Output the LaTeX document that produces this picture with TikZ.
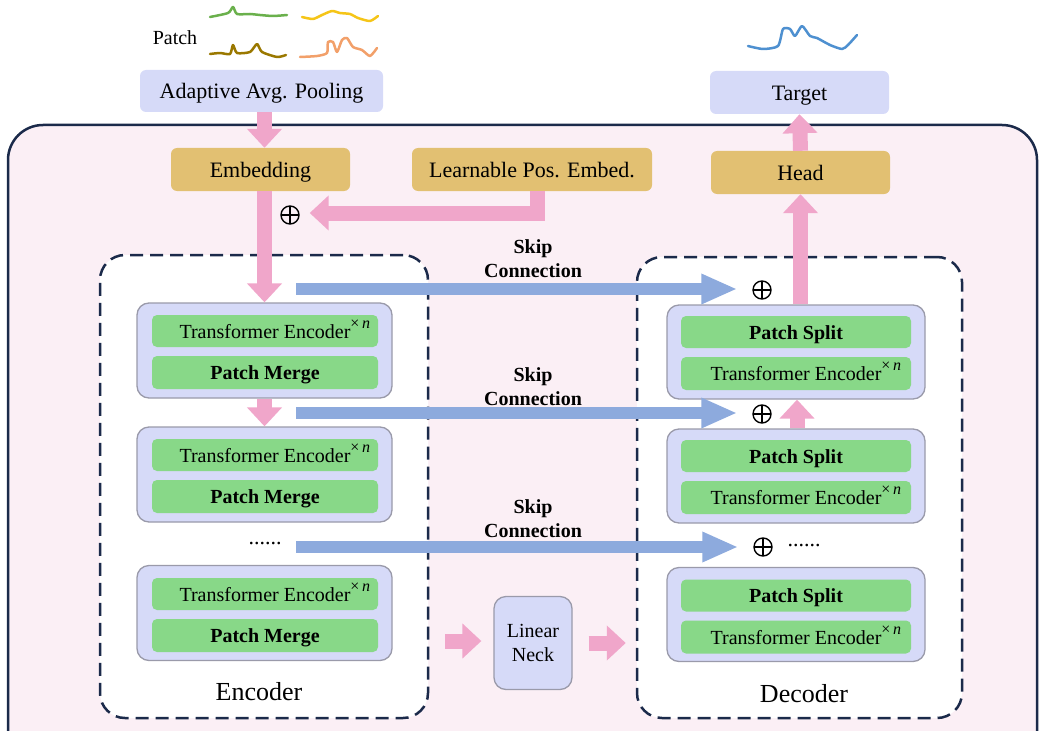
\documentclass[tikz,border=0pt]{standalone}
\usepackage{fontspec}
\setmainfont{Liberation Serif}
\usetikzlibrary{arrows.meta}
\definecolor{lav}{HTML}{D6DAF8}
\definecolor{gold}{HTML}{E2C072}
\definecolor{grn}{HTML}{88D888}
\definecolor{pinkc}{HTML}{F0A6CA}
\definecolor{bluec}{HTML}{8DAADD}
\definecolor{navy}{HTML}{1B2A4A}
\definecolor{bgpink}{HTML}{FBEFF5}
\definecolor{blockedge}{HTML}{9A9AAA}
\definecolor{cgreen}{HTML}{6AB04C}
\definecolor{cyellow}{HTML}{F5C518}
\definecolor{cbrown}{HTML}{9A7800}
\definecolor{corange}{HTML}{F2A06A}
\definecolor{cblue}{HTML}{4E90D0}
\newcommand\TEtext{Transformer Encoder\rlap{\raisebox{10pt}{\fontsize{16}{16}\selectfont ×\,\textit{n}}}}
\tikzset{
  lavbox/.style={fill=lav, rounded corners=6pt, inner sep=0pt, align=center, text height=16pt, text depth=0pt, font=\fontsize{22}{26}\selectfont},
  goldbox/.style={fill=gold, rounded corners=6pt, inner sep=0pt, align=center, text height=16pt, text depth=0pt, font=\fontsize{22}{26}\selectfont},
  blockbox/.style={fill=lav, draw=blockedge, line width=1.3pt, rounded corners=12pt, inner sep=0pt, minimum width=255pt, minimum height=95pt},
  dblockbox/.style={fill=lav, draw=blockedge, line width=1.3pt, rounded corners=12pt, inner sep=0pt, minimum width=258pt, minimum height=94pt},
  grnbox/.style={fill=grn, rounded corners=5pt, inner sep=0pt, minimum height=32pt, text height=14pt, text depth=0pt, font=\fontsize{20}{24}\selectfont},
  dashbox/.style={draw=navy, fill=white, line width=2.5pt, dash pattern=on 13pt off 7pt, rounded corners=25pt, inner sep=0pt},
  pinkarrow/.style={draw=pinkc, line width=15pt, -{Triangle[width=34pt,length=19pt]}},
  bluearrow/.style={draw=bluec, line width=12pt, -{Triangle[width=28pt,length=36pt]}},
  oplusnode/.style={circle, draw=black, line width=1.4pt, inner sep=0pt, minimum size=18pt,
    path picture={\draw[line width=1.4pt] (path picture bounding box.north) -- (path picture bounding box.south)
                  (path picture bounding box.west) -- (path picture bounding box.east);}},
  skiplabel/.style={align=center, font=\fontsize{20}{24}\selectfont\bfseries},
  curve/.style={line width=2.5pt, line join=round, line cap=round},
}
\begin{document}
\begin{tikzpicture}[x=1pt,y=-1pt]
\useasboundingbox (0,0) rectangle (1040,730);
\clip (0,0) rectangle (1040,730);
% background
\draw[fill=bgpink, draw=navy, line width=2.5pt, rounded corners=35pt] (8,780) -- (8,125) -- (1037,125) -- (1037,780);
% patch curves
\node[font=\fontsize{20}{24}\selectfont] (patchlbl) at (175,38) {Patch};
\draw[curve, cgreen] plot[smooth, tension=0.4] coordinates {(210,17) (228,13) (233,7) (237,14) (250,14) (260,15) (273,16) (287,15)};
\draw[curve, cyellow] plot[smooth, tension=0.4] coordinates {(302,17) (313,19) (322,15) (332,11) (340,13) (350,14) (358,18) (370,21) (378,16)};
\draw[curve, cbrown] plot[smooth, tension=0.4] coordinates {(210,54) (220,53) (230,54) (233,45) (237,53) (250,52) (257,44) (262,52) (277,57) (286,55)};
\draw[curve, corange] plot[smooth, tension=0.4] coordinates {(300,57) (317,56) (327,53) (328,42) (333,42) (337,52) (342,40) (347,38) (353,47) (362,50) (370,56) (377,48)};
\draw[curve, cblue] plot[smooth, tension=0.4] coordinates {(748,46) (763,49) (778,46) (783,29) (790,29) (795,36) (802,26) (810,36) (817,38) (830,45) (842,49) (848,45) (857,35)};
% top boxes
\node[lavbox, minimum width=243pt, minimum height=42pt] (pool) at (261.5,91) {Adaptive Avg. Pooling};
\node[lavbox, minimum width=179pt, minimum height=43pt] (target) at (799.5,92.5) {Target};
\node[goldbox, minimum width=179pt, minimum height=43pt] (emb) at (260.5,169.5) {Embedding};
\node[goldbox, minimum width=240pt, minimum height=43pt] (lpe) at (532,169.5) {Learnable Pos. Embed.};
\node[goldbox, minimum width=179pt, minimum height=43pt] (head) at (800.5,172.5) {Head};
% encoder / decoder frames
\node[dashbox, minimum width=328pt, minimum height=463pt] (enc) at (264,486.5) {};
\node[dashbox, minimum width=325pt, minimum height=461pt] (dec) at (799.5,487.5) {};
\node[font=\fontsize{26}{30}\selectfont] (enclbl) at (259,692) {Encoder};
\node[font=\fontsize{26}{30}\selectfont] (declbl) at (804,694) {Decoder};
% encoder blocks
\node[blockbox] (eB1) at (264.5,350.5) {};
\node[grnbox, minimum width=226pt] (eT1) at (265,331) {\TEtext};
\node[grnbox, minimum width=226pt, minimum height=33pt, font=\fontsize{20}{24}\selectfont\bfseries] (eP1) at (265,372.5) {Patch Merge};
\node[blockbox] (eB2) at (264.5,474.5) {};
\node[grnbox, minimum width=226pt] (eT2) at (265,455) {\TEtext};
\node[grnbox, minimum width=226pt, minimum height=33pt, font=\fontsize{20}{24}\selectfont\bfseries] (eP2) at (265,496.5) {Patch Merge};
\node[blockbox] (eB3) at (264.5,613) {};
\node[grnbox, minimum width=226pt] (eT3) at (265,594) {\TEtext};
\node[grnbox, minimum width=226pt, minimum height=33pt, font=\fontsize{20}{24}\selectfont\bfseries] (eP3) at (265,635.5) {Patch Merge};
\node[font=\fontsize{22}{24}\selectfont] (edots) at (265,544) {......};
% decoder blocks
\node[dblockbox] (dB1) at (796,352) {};
\node[grnbox, minimum width=230pt, font=\fontsize{20}{24}\selectfont\bfseries] (dP1) at (796,332) {Patch Split};
\node[grnbox, minimum width=230pt, minimum height=33pt] (dT1) at (796,373.5) {\TEtext};
\node[dblockbox] (dB2) at (796,476) {};
\node[grnbox, minimum width=230pt, font=\fontsize{20}{24}\selectfont\bfseries] (dP2) at (796,456) {Patch Split};
\node[grnbox, minimum width=230pt, minimum height=33pt] (dT2) at (796,497.5) {\TEtext};
\node[dblockbox] (dB3) at (796,614.5) {};
\node[grnbox, minimum width=230pt, font=\fontsize{20}{24}\selectfont\bfseries] (dP3) at (796,595.5) {Patch Split};
\node[grnbox, minimum width=230pt, minimum height=33pt] (dT3) at (796,637) {\TEtext};
\node[font=\fontsize{22}{24}\selectfont] (ddots) at (804,546) {......};
% linear neck
\node[fill=lav, draw=blockedge, line width=1.3pt, rounded corners=12pt, minimum width=78pt, minimum height=93pt, align=center, font=\fontsize{20}{24}\selectfont, inner sep=0pt] (neck) at (533,643) {Linear\\Neck};
% oplus symbols
\node[oplusnode] (opE) at (290,215) {};
\node[oplusnode] (op1) at (762,290) {};
\node[oplusnode] (op2) at (762,414) {};
\node[oplusnode] (op3) at (763,547) {};
% skip labels
\node[skiplabel] (sk1) at (533,259) {Skip\\Connection};
\node[skiplabel] (sk2) at (533,387) {Skip\\Connection};
\node[skiplabel] (sk3) at (533,519) {Skip\\Connection};
% coordinates
\coordinate (pebend) at (537,213);
\coordinate (s1) at (296,289);
\coordinate (s2) at (296,413);
\coordinate (s3) at (296,547);
% pink arrows
\draw[pinkarrow] (pool.south -| eB1.north) -- (emb.north -| eB1.north);
\draw[pinkarrow] (emb.south -| eB1.north) -- (eB1.north);
\draw[pinkarrow] (eB1.south) -- (eB2.north);
\draw[pinkarrow, shorten >=10pt] (lpe.south -| pebend) -- (pebend) -- (opE.east |- pebend);
\draw[pinkarrow] (dB2.north -| 797,0) -- (dB1.south -| 797,0);
\draw[pinkarrow] (dB1.north -| head.south) -- (head.south);
\draw[pinkarrow] (head.north) -- (target.south);
\draw[pinkarrow, shorten <=16pt, shorten >=12pt] (enc.east |- 0,641) -- (neck.west |- 0,641);
\draw[pinkarrow, shorten <=16pt, shorten >=10pt] (neck.east |- 0,643) -- (dec.west |- 0,643);
% blue skip arrows
\draw[bluearrow, shorten >=15pt] (s1) -- (op1.west |- s1);
\draw[bluearrow, shorten >=15pt] (s2) -- (op2.west |- s2);
\draw[bluearrow, shorten >=15pt] (s3) -- (op3.west |- s3);
\end{tikzpicture}
\end{document}
